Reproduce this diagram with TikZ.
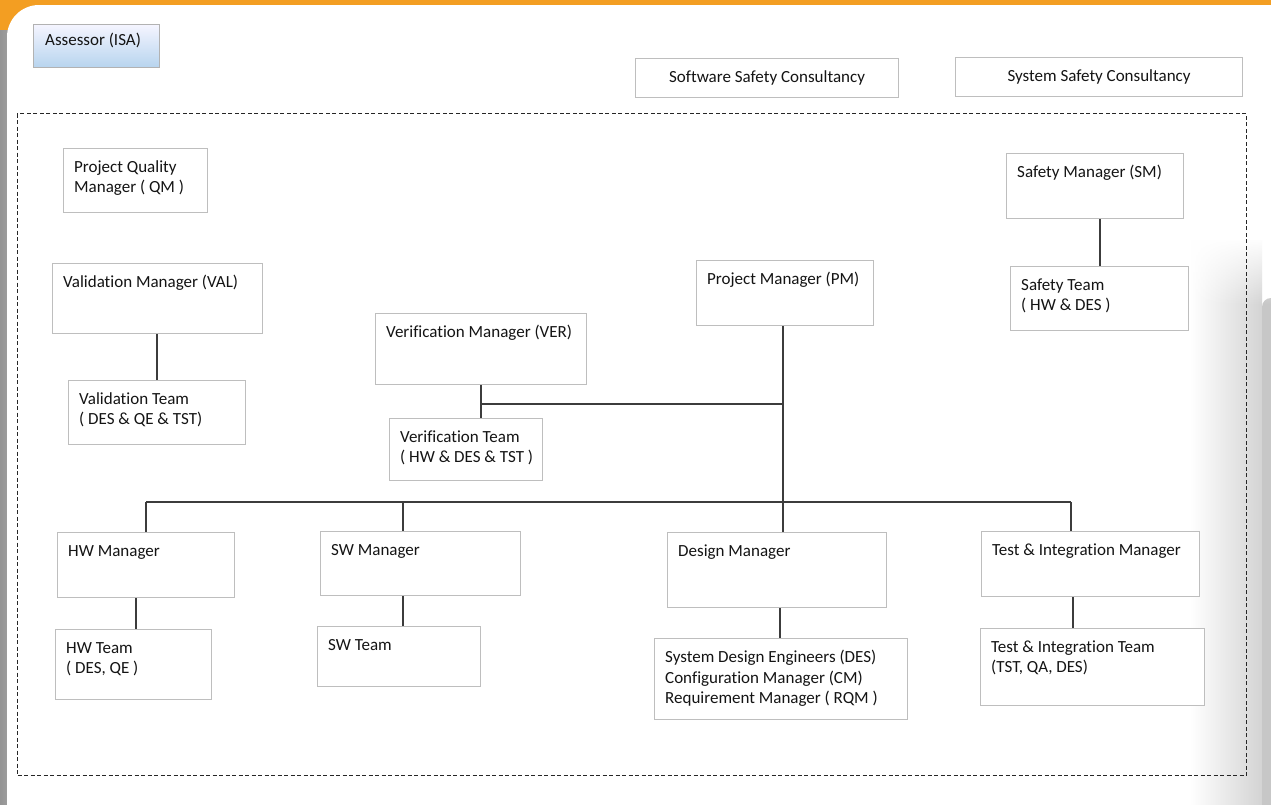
\documentclass[tikz,border=0pt]{standalone}
\usepackage{fontspec}
\setmainfont{Carlito}[Ligatures={NoCommon}]
\usetikzlibrary{fadings}
\definecolor{orng}{RGB}{243,158,34}
\definecolor{bordr}{RGB}{190,190,190}
\definecolor{conn}{RGB}{60,60,60}
\definecolor{txtc}{RGB}{20,20,20}
\tikzset{
  box/.style={draw=bordr, line width=1.1pt, fill=white, inner sep=0pt, anchor=north west},
  txt/.style={inner sep=0pt, anchor=north west, align=left, text=txtc, font=\fontsize{17}{20.5}\selectfont},
  ctxt/.style={draw=bordr, line width=1.1pt, fill=white, inner sep=0pt, text=txtc, font=\fontsize{17}{20.5}\selectfont},
  conline/.style={draw=conn, line width=1.4pt},
}
\newcommand\bx[6]{%
  \node[box, minimum width=#4pt, minimum height=#5pt] (#1) at (#2,#3) {};
  \node[txt] (#1t) at ([shift={(11,12)}]#1.north west) {\rule{0pt}{12pt}#6};}
\begin{document}
\begin{tikzpicture}[x=1pt,y=-1pt]
\useasboundingbox (0,0) rectangle (1271,804);
\clip (0,0) rectangle (1271,804);
% background frame
\fill[orng] (0,0) rectangle (1271,45);
\shade[left color=black!42, right color=black!22] (0,30) rectangle (40,804);
\fill[white, rounded corners=32pt] (7,5) rectangle (1310,840);
\shade[left color=white, right color=black!17] (1190,240) rectangle (1262,804);
\fill[black!22, rounded corners=9pt] (1262,298) rectangle (1290,840);
\fill[white, path fading=south] (1185,238) rectangle (1271,305);
% top row
\node[box, minimum width=126pt, minimum height=43pt, draw=black!30, top color=blue!4!white, bottom color={rgb,255:red,183;green,212;blue,238}] (isa) at (33,24) {};
\node[txt] (isat) at ([shift={(12,9)}]isa.north west) {\rule{0pt}{12pt}Assessor (ISA)};
\node[ctxt, minimum width=263pt, minimum height=39pt, anchor=north west] (ssc) at (635,58) {\raisebox{2pt}{Software Safety Consultancy}};
\node[ctxt, minimum width=287pt, minimum height=39pt, anchor=north west] (syc) at (955,57) {\raisebox{2pt}{System Safety Consultancy}};
% dashed frame
\node[draw=black!85, line width=1pt, dash pattern=on 4pt off 2.5pt, minimum width=1229pt, minimum height=662pt, anchor=north west, inner sep=0pt] (frame) at (17,113) {};
% boxes
\bx{qm}{63}{148}{144}{64}{Project Quality\\Manager ( QM )}
\bx{sm}{1006}{153}{177}{65}{Safety Manager (SM)}
\bx{st}{1010}{266}{178}{64}{Safety Team\\( HW \& DES )}
\bx{val}{52}{263}{210}{70}{Validation Manager (VAL)}
\bx{vat}{68}{380}{177}{64}{Validation Team\\( DES \& QE \& TST)}
\bx{pm}{696}{260}{177}{65}{Project Manager (PM)}
\bx{ver}{375}{313}{211}{71}{Verification Manager (VER)}
\bx{vet}{389}{418}{153}{62}{Verification Team\\( HW \& DES \& TST )}
\bx{hwm}{57}{532}{177}{65}{HW Manager}
\bx{hwt}{55}{629}{156}{70}{HW Team\\( DES, QE )}
\bx{swm}{320}{531}{200}{64}{SW Manager}
\bx{swt}{317}{626}{163}{60}{SW Team}
\bx{dm}{667}{532}{219}{75}{Design Manager}
\bx{dt}{654}{638}{253}{81}{System Design Engineers (DES)\\Configuration Manager (CM)\\Requirement Manager ( RQM )}
\bx{tim}{981}{531}{218}{65}{Test \& Integration Manager}
\bx{tit}{980}{628}{224}{77}{Test \& Integration Team\\(TST, QA, DES)}
% connectors
\coordinate (busL) at (146,502);
\coordinate (busR) at (1071,502);
\coordinate (busM) at (783,502);
\coordinate (verJ) at (783,404);
\coordinate (verS) at (481,404);
\draw[conline] (1100,0 |- sm.south) -- (1100,0 |- st.north);
\draw[conline] (157,0 |- val.south) -- (157,0 |- vat.north);
\draw[conline] (481,0 |- ver.south) -- (481,0 |- vet.north);
\draw[conline] (verS) -- (verJ);
\draw[conline] (783,0 |- pm.south) -- (busM);
\draw[conline] (busL) -- (busR);
\draw[conline] (busL) -- (146,0 |- hwm.north);
\draw[conline] (403,502) -- (403,0 |- swm.north);
\draw[conline] (busM) -- (783,0 |- dm.north);
\draw[conline] (busR) -- (1071,0 |- tim.north);
\draw[conline] (136,0 |- hwm.south) -- (136,0 |- hwt.north);
\draw[conline] (403,0 |- swm.south) -- (403,0 |- swt.north);
\draw[conline] (780,0 |- dm.south) -- (780,0 |- dt.north);
\draw[conline] (1073,0 |- tim.south) -- (1073,0 |- tit.north);
\end{tikzpicture}
\end{document}
